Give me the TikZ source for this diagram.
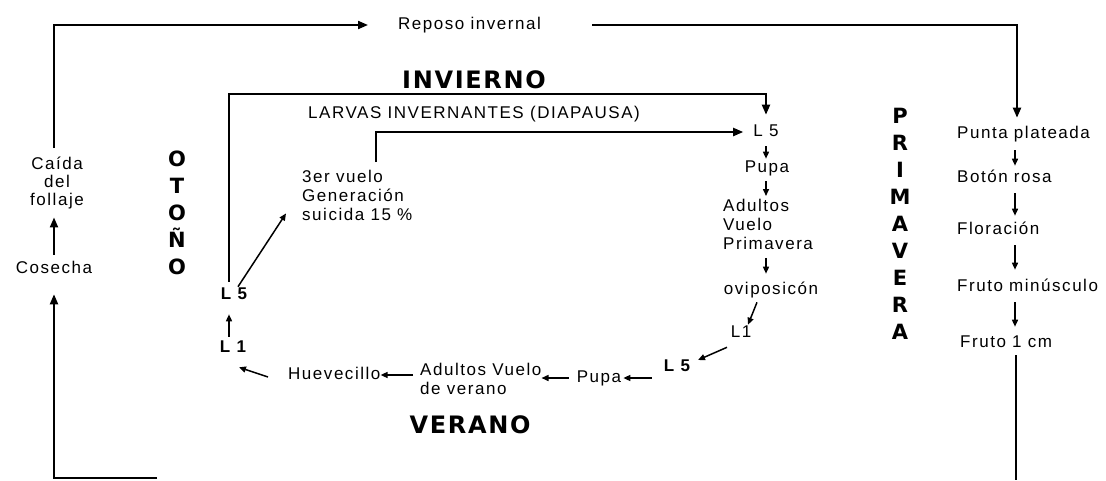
\documentclass[tikz,border=0pt]{standalone}
\usepackage{fontspec}
\setmainfont{Liberation Sans}
\newfontfamily\rfont{Liberation Sans}[LetterSpace=9]
\newfontfamily\hfont{DejaVu Sans}[LetterSpace=7]
\usetikzlibrary{arrows.meta}
\begin{document}
\begin{tikzpicture}[x=1pt,y=-1pt,
 txt/.style={font=\rfont\fontsize{17}{18}\selectfont, inner sep=0pt, text height=12.5pt, text depth=3.7pt},
 mtxt/.style={font=\rfont\fontsize{17}{19}\selectfont, inner sep=0pt, align=left},
 btxt/.style={font=\rfont\bfseries\fontsize{17}{18}\selectfont, inner sep=0pt, text height=12.5pt, text depth=3.7pt},
 season/.style={font=\hfont\bfseries\fontsize{24}{26}\selectfont, inner sep=0pt},
 vlet/.style={font=\hfont\bfseries\fontsize{21}{27}\selectfont, inner sep=0pt, align=center},
 ln/.style={line width=2pt},
 arr/.style={line width=2pt, -{Triangle[length=10pt,width=8pt]}},
 sarr/.style={line width=1.5pt, -{Triangle[length=7pt,width=6pt]}}]
\useasboundingbox (0,0) rectangle (1106,480);

% text nodes
\node[txt, anchor=west] (rep) at (398,25) {Reposo invernal};
\node[mtxt, align=center, font=\rfont\fontsize{17}{18}\selectfont, anchor=north] (caida) at (57,157) {Caída\\del\\follaje};
\node[txt] (cos) at (54,269) {Cosecha};
\node[vlet] (otono) at (177,212.5) {O\\T\\O\\Ñ\\O};
\node[vlet] (prim) at (900,224) {P\\R\\I\\M\\A\\V\\E\\R\\A};
\node[season] (inv) at (474,80) {INVIERNO};
\node[season] (ver) at (470,425) {VERANO};
\node[txt, anchor=west] (larv) at (308,114) {LARVAS INVERNANTES (DIAPAUSA)};
\node[txt] (l5t) at (766,132) {L 5};
\node[txt] (pupa1) at (767,168) {Pupa};
\node[mtxt, anchor=north west] (adp) at (723,199) {Adultos\\Vuelo\\Primavera};
\node[txt] (ovip) at (771,290) {oviposicón};
\node[txt] (l1r) at (741,333) {L1};
\node[btxt] (l5b) at (677,367) {L 5};
\node[txt] (pupa2) at (599,378) {Pupa};
\node[mtxt, anchor=north west] (adv) at (420,363) {Adultos Vuelo\\de verano};
\node[txt, anchor=west] (huev) at (288,375) {Huevecillo};
\node[btxt] (l1b) at (233,348) {L 1};
\node[btxt] (l5a) at (234,295) {L 5};
\node[mtxt, anchor=north west] (v3) at (302,170) {3er vuelo\\Generación\\suicida 15 \%};
\node[txt, anchor=west] (punta) at (957,134) {Punta plateada};
\node[txt, anchor=west] (boton) at (957,178) {Botón rosa};
\node[txt, anchor=west] (flor) at (957,230) {Floración};
\node[txt, anchor=west] (fmin) at (957,287) {Fruto minúsculo};
\node[txt, anchor=west] (f1) at (960,343) {Fruto 1 cm};

% helper coordinates
\coordinate (cl) at (54,0);
\coordinate (bl) at (157,478);
\coordinate (tr) at (1017,25);
\coordinate (rc) at (1015,0);
\coordinate (br) at (1016,480);
\coordinate (rc1) at (229,94);
\coordinate (ic) at (376,132);
\coordinate (lc) at (229,0);
\coordinate (mc) at (766,0);

% outer loop
\draw[arr, shorten <=9pt] (caida.north -| cl) |- ([xshift=-30pt]rep.west);
\draw[arr, shorten >=8pt] ([xshift=51pt]rep.east) -| (punta.north -| tr);
\draw[arr, shorten <=6pt] (cos.north -| cl) -- ([yshift=-8pt]caida.south -| cl);
\draw[arr] (bl) -| ([yshift=-17pt]cos.south -| cl);

% right column
\draw[sarr, shorten <=8pt, shorten >=4pt] (punta.south -| rc) -- (boton.north -| rc);
\draw[sarr, shorten <=7pt, shorten >=6pt] (boton.south -| rc) -- (flor.north -| rc);
\draw[sarr, shorten <=7pt, shorten >=9pt] (flor.south -| rc) -- (fmin.north -| rc);
\draw[sarr, shorten <=7pt, shorten >=8pt] (fmin.south -| rc) -- (f1.north -| rc);
\draw[ln, shorten <=4pt] (f1.south -| br) -- (br);

% cycle
\draw[arr, shorten <=5pt, shorten >=9pt] (l5a.north -| rc1) -- (rc1) -| (l5t.north);
\draw[arr, shorten <=8pt, shorten >=10pt] (v3.north -| ic) -- (ic) -- (l5t.west);
\draw[sarr, shorten <=6pt, shorten >=1pt] (l5t.south -| mc) -- (pupa1.north -| mc);
\draw[sarr, shorten <=5pt, shorten >=3pt] (pupa1.south -| mc) -- (adp.north -| mc);
\draw[sarr, shorten <=8pt, shorten >=8pt] (adp.south -| mc) -- (ovip.north -| mc);
\draw[sarr] ([xshift=-14pt,yshift=-4pt]ovip.south) -- ([xshift=7pt]l1r.north);
\draw[sarr] ([xshift=-14pt,yshift=-6pt]l1r.south) -- ([xshift=21pt,yshift=7pt]l5b.center);
\draw[sarr, shorten <=12pt, shorten >=2pt] (l5b.west |- pupa2.east) -- (pupa2.east);
\draw[sarr, shorten <=8pt] (pupa2.west) -- (adv.east |- pupa2.west);
\draw[sarr, shorten <=7pt] (adv.west |- huev.east) -- (huev.east);
\draw[sarr] ([xshift=-20pt,yshift=-2pt]huev.west) -- ([xshift=6pt,yshift=-11pt]l1b.south);
\draw[sarr, shorten <=3pt] (l1b.north -| lc) -- ([yshift=-11pt]l5a.south -| lc);
\draw[sarr] ([xshift=4pt]l5a.north) -- ([xshift=-16pt,yshift=-18pt]v3.west);
\end{tikzpicture}
\end{document}
